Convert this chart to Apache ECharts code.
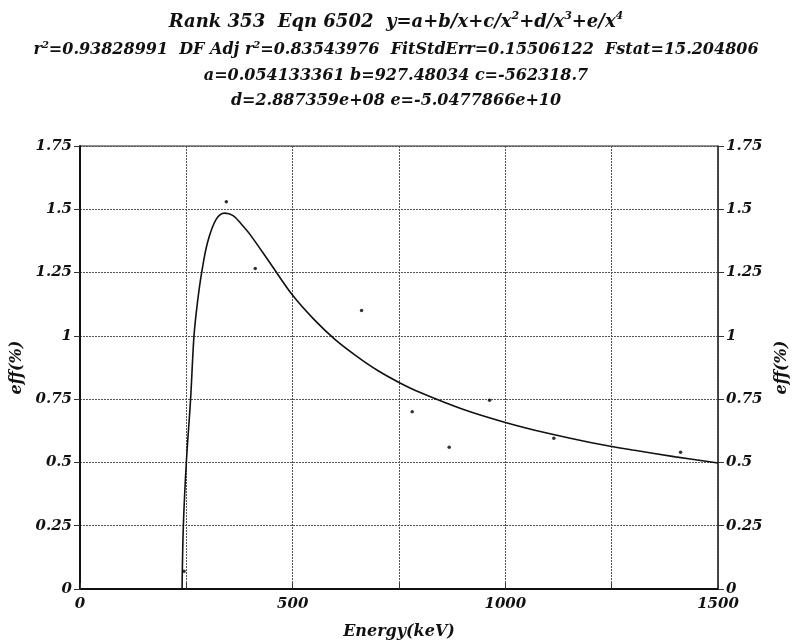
<!DOCTYPE html>
<html>
<head>
<meta charset="utf-8">
<script src="https://cdn.jsdelivr.net/npm/echarts@6/dist/echarts.min.js"></script>
<style>html,body{margin:0;padding:0;background:#fff}#c{width:792px;height:641px}</style>
</head>
<body>
<div id="c"></div>
<script>
// Measured points
const energy = [244.7, 344, 412, 662, 781, 868, 963, 1114, 1412];
const eff = [0.07, 1.53, 1.266, 1.10, 0.70, 0.56, 0.746, 0.596, 0.54];
// Fitted curve
const fitX = [240, 243, 250, 260, 268, 276, 286, 300, 320, 340, 360, 380, 400, 450, 500, 550, 600, 650, 700, 750, 800, 900, 1000, 1100, 1200, 1300, 1400, 1500];
const fitY = [0, 0.25, 0.5, 0.75, 1.0, 1.13, 1.25, 1.37, 1.46, 1.485, 1.475, 1.44, 1.40, 1.28, 1.16, 1.065, 0.985, 0.92, 0.863, 0.816, 0.776, 0.71, 0.658, 0.615, 0.579, 0.549, 0.522, 0.498];
// Axis ticks
const xTicks = [0, 500, 1000, 1500];
const yTicks = ['0', '0.25', '0.5', '0.75', '1', '1.25', '1.5', '1.75'];
// Title lines
const titleLines = [
  '{a|Rank 353  Eqn 6502  y=a+b/x+c/x}{s|2}{a|+d/x}{s|3}{a|+e/x}{s|4}',
  '{a|r}{s|2}{a|=0.93828991  DF Adj r}{s|2}{a|=0.83543976  FitStdErr=0.15506122  Fstat=15.204806}',
  '{a|a=0.054133361 b=927.48034 c=-562318.7}',
  '{a|d=2.887359e+08 e=-5.0477866e+10}'
];

const FONT = '"DejaVu Serif", serif';
const chart = echarts.init(document.getElementById('c'));
const sizes = [18, 16, 16, 16];
const centers = [22, 50, 76, 101];
const titles = titleLines.map((t, i) => ({
  text: t,
  left: 'center',
  top: centers[i] - (sizes[i] + 4) / 2,
  padding: 0,
  textStyle: {
    rich: {
      a: {fontFamily: FONT, fontStyle: 'italic', fontWeight: 'bold', fontSize: sizes[i], color: '#111', lineHeight: sizes[i] + 4},
      s: {fontFamily: FONT, fontStyle: 'italic', fontWeight: 'bold', fontSize: Math.round(sizes[i] * 0.62), color: '#111', verticalAlign: 'top', lineHeight: sizes[i] + 4}
    }
  }
}));

const labelStyle = {fontFamily: FONT, fontStyle: 'italic', fontWeight: 'bold', fontSize: 15, color: '#111'};
const yAxisCommon = {
  type: 'value', min: 0, max: 1.75, interval: 0.25,
  name: 'eff(%)', nameLocation: 'middle', nameRotate: 90,
  nameTextStyle: Object.assign({}, labelStyle, {fontSize: 16}),
  axisTick: {show: true, length: 6, inside: false, lineStyle: {color: '#333'}},
  axisLabel: Object.assign({}, labelStyle, {margin: 8, formatter: v => yTicks.includes(String(v)) ? String(v) : ''}),
};

chart.setOption({
  backgroundColor: '#fff',
  animation: false,
  title: titles,
  grid: {left: 80, right: 74, top: 146, bottom: 52, outerBoundsMode: 'none', containLabel: false, show: true, borderColor: '#222', borderWidth: 1},
  xAxis: {
    type: 'value', min: 0, max: 1500, interval: 250,
    name: 'Energy(keV)', nameLocation: 'middle', nameGap: 35,
    nameTextStyle: Object.assign({}, labelStyle, {fontSize: 16}),
    axisLine: {show: true, onZero: false, lineStyle: {color: '#111', width: 2}},
    axisTick: {show: true, inside: true, length: 6, lineStyle: {color: '#333'}},
    axisLabel: Object.assign({}, labelStyle, {margin: 8, formatter: v => xTicks.includes(v) ? String(v) : ''}),
    splitLine: {show: true, lineStyle: {color: '#555', type: [2, 1], width: 1}}
  },
  yAxis: [
    Object.assign({}, yAxisCommon, {
      position: 'left', nameGap: 53,
      axisLine: {show: true, lineStyle: {color: '#111', width: 2}},
      splitLine: {show: true, lineStyle: {color: '#555', type: [2, 1], width: 1}}
    }),
    Object.assign({}, yAxisCommon, {
      position: 'right', nameGap: 56,
      axisLine: {show: true, lineStyle: {color: '#333', width: 1.5}},
      splitLine: {show: false}
    })
  ],
  series: [
    {
      type: 'line', yAxisIndex: 0,
      data: fitX.map((x, i) => [x, fitY[i]]),
      showSymbol: false, smooth: 0.35,
      lineStyle: {color: '#111', width: 1.6},
      z: 3
    },
    {
      type: 'scatter', yAxisIndex: 0,
      data: energy.map((x, i) => [x, eff[i]]),
      symbol: 'circle', symbolSize: 3.5,
      itemStyle: {color: '#000'},
      z: 4
    }
  ]
});
</script>
</body>
</html>
